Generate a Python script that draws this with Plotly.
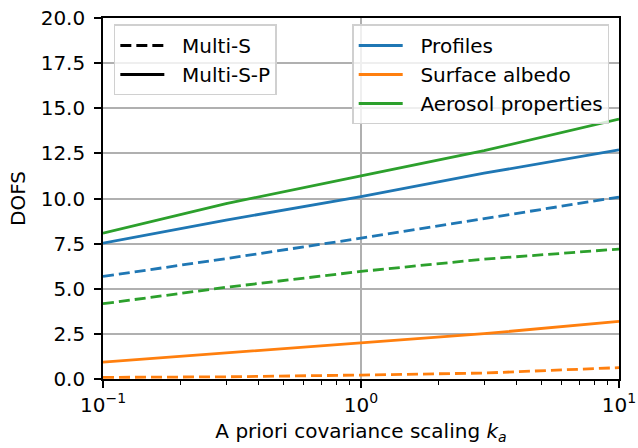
import plotly.graph_objects as go

# A priori covariance scaling factors
ka = [0.1, 0.3, 1, 3, 10]

# Degrees of freedom for signal, per state-vector component
profiles_S = [5.68, 6.67, 7.80, 8.89, 10.08]
profiles_SP = [7.53, 8.80, 10.11, 11.40, 12.70]
albedo_S = [0.09, 0.12, 0.22, 0.33, 0.63]
albedo_SP = [0.94, 1.46, 1.99, 2.51, 3.19]
aerosol_S = [4.17, 5.08, 5.96, 6.64, 7.20]
aerosol_SP = [8.08, 9.72, 11.25, 12.65, 14.40]

components = ["Profiles", "Surface albedo", "Aerosol properties"]
configs = ["Multi-S", "Multi-S-P"]
colors = ["#1f77b4", "#ff7f0e", "#2ca02c"]
series_S = [profiles_S, albedo_S, aerosol_S]
series_SP = [profiles_SP, albedo_SP, aerosol_SP]

y_ticks = [0.0, 2.5, 5.0, 7.5, 10.0, 12.5, 15.0, 17.5, 20.0]
x_ticks = [0.1, 1, 10]
x_ticktext = ["10<sup>\u22121</sup>", "10<sup>0</sup>", "10<sup>1</sup>"]
x_minor = [m * d for d in (0.1, 1) for m in range(2, 10)]

FONT = "DejaVu Sans"
DASH = "11px,5px"
LW = 2.8
PAD = "\u00a0\u00a0"  # spacing between legend line sample and label

fig = go.Figure()

for name, col, ys, ysp in zip(components, colors, series_S, series_SP):
    fig.add_trace(go.Scatter(x=ka, y=ys, mode="lines", showlegend=False,
                             line=dict(color=col, width=LW, dash=DASH)))
    fig.add_trace(go.Scatter(x=ka, y=ysp, mode="lines", showlegend=False,
                             line=dict(color=col, width=LW)))

# Legend for the observation configurations (line style)
for name, dash in zip(configs, [DASH, "solid"]):
    fig.add_trace(go.Scatter(x=[None], y=[None], mode="lines", name=PAD + name,
                             legend="legend",
                             line=dict(color="black", width=LW, dash=dash)))

# Legend for the state-vector components (colour)
for name, col in zip(components, colors):
    fig.add_trace(go.Scatter(x=[None], y=[None], mode="lines", name=PAD + name,
                             legend="legend2",
                             line=dict(color=col, width=LW)))

legend_style = dict(
    bgcolor="rgba(255,255,255,0.8)", bordercolor="#d0d0d0", borderwidth=1.5,
    font=dict(family=FONT, size=20, color="black"), tracegroupgap=0,
    itemwidth=44,
    yref="paper", xref="paper", yanchor="top",
)

fig.update_layout(
    width=638, height=448,
    margin=dict(l=103, r=19, t=18, b=69),
    paper_bgcolor="white", plot_bgcolor="white",
    font=dict(family=FONT, size=20, color="black"),
    legend=dict(x=0.021, y=0.982, xanchor="left", **legend_style),
    legend2=dict(x=0.981, y=0.982, xanchor="right", **legend_style),
)

fig.update_xaxes(
    type="log", range=[-1, 1], automargin=False,
    tickvals=x_ticks, ticktext=x_ticktext,
    ticks="outside", ticklen=7, tickwidth=1.5, tickcolor="black",
    minor=dict(tickvals=x_minor, ticks="outside", ticklen=4, tickwidth=1.2,
               tickcolor="black", showgrid=False),
    showline=True, linecolor="black", linewidth=1.6, mirror=True,
    showgrid=True, gridcolor="#b0b0b0", gridwidth=1.5,
    title=dict(text="A priori covariance scaling <i>k</i><sub><i>a</i></sub>",
               font=dict(family=FONT, size=20), standoff=8),
    zeroline=False,
)
fig.update_yaxes(
    range=[0, 20], automargin=False, tickvals=y_ticks,
    ticktext=["%.1f" % v for v in y_ticks],
    ticks="outside", ticklen=7, tickwidth=1.5, tickcolor="black",
    ticklabelstandoff=5,
    showline=True, linecolor="black", linewidth=1.6, mirror=True,
    showgrid=True, gridcolor="#b0b0b0", gridwidth=1.5,
    title=dict(text="DOFS", font=dict(family=FONT, size=20), standoff=10),
    zeroline=False,
)

fig.write_html("out.html")
